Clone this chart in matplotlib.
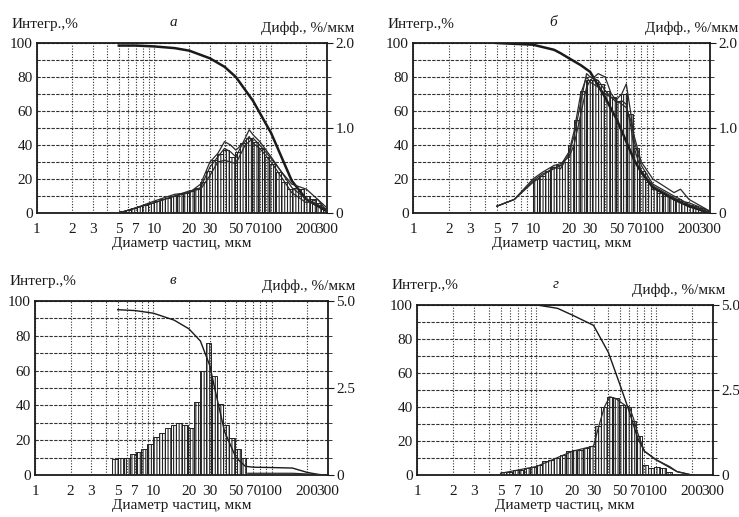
import matplotlib
matplotlib.use("Agg")
import matplotlib.pyplot as plt
from matplotlib.ticker import FixedLocator, FixedFormatter, LogLocator, MultipleLocator, NullFormatter

plt.rcParams['font.family'] = ['Liberation Serif', 'DejaVu Serif']
plt.rcParams['hatch.linewidth'] = 0.8
plt.rcParams['hatch.color'] = '#2a2a2a'

# ---------------- data ----------------
XTICKS = [1, 2, 3, 5, 7, 10, 20, 30, 50, 70, 100, 200, 300]
XLABELS = ["1", "2", "3", "5", "7", "10", "20", "30", "50", "70", "100", "200", "300"]
LEFT_TICKS = [0, 20, 40, 60, 80, 100]

# histogram bin edges, мкм
EDGES = [4.5, 5.0, 5.6, 6.3, 7.1, 7.9, 8.9, 10, 11.2, 12.5, 14, 15.7, 17.6, 19.7,
         22, 24.7, 27.7, 31, 34.7, 38.9, 43.6, 48.8, 54.7, 61.3, 68.6, 76.9, 86.1,
         96.5, 108, 121, 136, 152, 170, 191, 214, 240, 268, 300]

# --- panel а (diff, %/мкм) ---
A_HIST = [0.0, 0.02, 0.04, 0.06, 0.08, 0.10, 0.12, 0.14, 0.16, 0.18, 0.20, 0.22, 0.24,
          0.26, 0.30, 0.36, 0.50, 0.62, 0.70, 0.74, 0.66, 0.72, 0.82, 0.88, 0.84, 0.76,
          0.66, 0.58, 0.48, 0.36, 0.28, 0.30, 0.28, 0.20, 0.16, 0.12, 0.06]
A_CX = [5, 7, 10, 15, 20, 25, 30, 35, 40, 45, 50, 60, 65, 70, 80, 100, 120, 150, 200, 250, 300]
A_C1 = [0, .06, .12, .20, .24, .30, .54, .66, .76, .72, .66, .88, .98, .92, .84, .66, .50, .30, .16, .10, .04]
A_C2 = [0, .06, .12, .20, .26, .28, .44, .60, .62, .60, .58, .80, .84, .88, .80, .64, .50, .34, .28, .16, .06]
A_C3 = [0, .06, .14, .22, .24, .34, .60, .70, .84, .80, .74, .84, .90, .82, .76, .60, .44, .24, .12, .16, .02]
A_IX = [5, 7, 10, 15, 20, 30, 40, 50, 70, 100, 150, 200, 300]
A_INT = [98.5, 98.5, 98, 97, 95.5, 91, 86, 80, 66, 47, 19, 8, 1]

# --- panel б ---
B_HIST = [0, 0, 0, 0, 0, 0, 0, 0.40, 0.44, 0.50, 0.54, 0.56, 0.60, 0.80, 1.10, 1.44,
          1.56, 1.56, 1.52, 1.44, 1.36, 1.32, 1.40, 1.16, 0.76, 0.50, 0.36, 0.28, 0.24,
          0.20, 0.18, 0.16, 0.12, 0.10, 0.08, 0.06, 0.02]
B_CX = [5, 7, 10, 12, 15, 17, 20, 22, 25, 28, 30, 35, 40, 45, 50, 55, 60, 65, 70, 80, 100, 150, 170, 200, 300]
B_C1 = [.08, .16, .36, .44, .54, .52, .70, .90, 1.30, 1.64, 1.60, 1.56, 1.44, 1.36, 1.34, 1.40, 1.52, 1.20, .84, .56, .34, .20, .16, .10, 0]
B_C2 = [.08, .16, .40, .48, .56, .58, .66, .80, 1.16, 1.48, 1.56, 1.64, 1.60, 1.40, 1.32, 1.28, 1.24, 1.10, .90, .60, .40, .24, .28, .16, .02]
B_C3 = [.08, .16, .38, .46, .52, .56, .72, .96, 1.40, 1.60, 1.54, 1.48, 1.40, 1.36, 1.30, 1.32, 1.28, 1.04, .76, .50, .32, .18, .14, .12, .02]
B_IX = [5, 10, 15, 17, 20, 25, 30, 40, 45, 50, 60, 70, 80, 100, 150, 200, 300]
B_INT = [100, 99, 96, 94, 91, 87, 83, 68, 61, 55, 42, 31, 24, 15, 8, 4, 0]

# --- panel в ---
V_HIST = [0.45, 0.48, 0.50, 0.60, 0.65, 0.75, 0.90, 1.10, 1.20, 1.35, 1.45, 1.50, 1.45,
          1.35, 2.10, 3.00, 3.80, 2.85, 2.05, 1.45, 1.05, 0.75, 0.50, 0, 0, 0, 0, 0, 0,
          0, 0, 0, 0, 0, 0, 0, 0]
V_TX = [63, 100, 150, 200, 300]
V_TAIL = [0.05, 0.05, 0.05, 0.03, 0]
V_IX = [5, 7, 10, 15, 20, 25, 30, 33, 40, 50, 60, 70, 100, 150, 200, 250, 300]
V_INT = [95, 94.5, 93, 89, 84, 77, 63, 50, 25, 10, 5, 4.5, 4.3, 4, 1.5, 0.3, 0]

# --- panel г ---
G_HIST = [0, 0.10, 0.10, 0.15, 0.15, 0.20, 0.25, 0.30, 0.40, 0.45, 0.50, 0.60, 0.70,
          0.75, 0.75, 0.80, 0.85, 1.45, 2.00, 2.30, 2.25, 2.05, 2.00, 1.60, 1.15, 0.30,
          0.20, 0.25, 0.20, 0.10, 0, 0, 0, 0, 0, 0, 0]
G_CX = [5, 10, 20, 30, 33, 37, 41, 46, 55, 60, 65, 70, 80, 100, 130, 150, 200]
G_C = [0.05, 0.25, 0.70, 0.85, 1.40, 2.00, 2.30, 2.25, 2.05, 2.00, 1.65, 1.25, 0.70, 0.45, 0.25, 0.10, 0]
G_IX = [5, 10, 15, 20, 30, 40, 50, 60, 70, 80, 100, 150, 200]
G_INT = [100, 100, 98, 94, 88, 72, 53, 37, 22, 14, 9, 2, 0]

INK = "#1a1a1a"
FS = 11

fig = plt.figure(figsize=(7.39, 5.17), dpi=100)
fig.patch.set_facecolor("white")

positions = {
    "а": [0.050, 0.588, 0.3925, 0.3288],
    "б": [0.5589, 0.588, 0.402, 0.3288],
    "в": [0.0474, 0.0812, 0.3965, 0.3366],
    "г": [0.5643, 0.0812, 0.4005, 0.329],
}
right_text_offset = {"а": 20, "б": 20, "в": 20, "г": 9}


def make_panel(letter, rmax, rticks, rlabels, hist, curves_x, curves, int_x, int_y):
    ax = fig.add_axes(positions[letter])
    ax.set_xscale("log")
    ax.set_ylim(0, 100)
    ax2 = ax.twinx()
    ax.set_xlim(1, 300)

    ax.xaxis.set_major_locator(FixedLocator(XTICKS))
    ax.xaxis.set_major_formatter(FixedFormatter(XLABELS))
    ax.xaxis.set_minor_locator(LogLocator(base=10, subs=range(1, 10)))
    ax.xaxis.set_minor_formatter(NullFormatter())
    ax.set_yticks(LEFT_TICKS)
    ax.set_yticklabels([str(t) for t in LEFT_TICKS])
    ax.yaxis.set_minor_locator(MultipleLocator(10))
    ax.grid(axis="x", which="both", color="#333333", ls=(0, (1, 1.5)), lw=0.8)
    ax.grid(axis="y", which="both", color="#333333", ls=(0, (3, 1.2)), lw=0.8)
    ax.tick_params(which="both", length=0, pad=3, colors=INK, labelsize=FS)
    ax.tick_params(axis="x", pad=7)
    for s in ax.spines.values():
        s.set_color(INK)
        s.set_linewidth(1.3)
    ax.plot(int_x, int_y, color=INK, lw=1.8 if letter in "аб" else 1.0, zorder=3)

    ax2.set_ylim(0, rmax)
    ax2.set_yticks(rticks)
    ax2.set_yticklabels(rlabels)
    ax2.yaxis.set_minor_locator(MultipleLocator(rmax / 10))
    ax2.tick_params(axis="y", which="major", length=4, direction="out", colors=INK,
                    pad=2, labelsize=FS)
    ax2.tick_params(axis="y", which="minor", length=3, direction="out", colors=INK)
    for s in ax2.spines.values():
        s.set_visible(False)
    lefts = EDGES[:-1]
    widths = [EDGES[i + 1] - EDGES[i] for i in range(len(EDGES) - 1)]
    ax2.bar(lefts, hist, width=widths, align="edge", facecolor="none",
            edgecolor="#222222", lw=0.7, hatch="||||||", zorder=2)
    for cy in curves:
        ax2.plot(curves_x, cy, color="#2b2b2b", lw=0.9, zorder=4)

    # texts
    ax.annotate("Интегр.,%", xy=(0, 1), xycoords="axes fraction", xytext=(-18, 9),
                textcoords="offset points", ha="left", va="bottom", fontsize=FS, color=INK)
    ax.annotate("Дифф., %/мкм", xy=(1, 1), xycoords="axes fraction",
                xytext=(right_text_offset[letter], 6),
                textcoords="offset points", ha="right", va="bottom", fontsize=FS, color=INK)
    ax.annotate(letter, xy=(0.47, 1), xycoords="axes fraction", xytext=(0, 10),
                textcoords="offset points", ha="center", va="bottom", fontsize=FS,
                style="italic", color=INK)
    ax.set_xlabel("Диаметр частиц, мкм", fontsize=FS, labelpad=1, color=INK)
    return ax, ax2


make_panel("а", 2.0, [0, 1.0, 2.0], ["0", "1.0", "2.0"], A_HIST, A_CX,
           [A_C1, A_C2, A_C3], A_IX, A_INT)
make_panel("б", 2.0, [0, 1.0, 2.0], ["0", "1.0", "2.0"], B_HIST, B_CX,
           [B_C1, B_C2, B_C3], B_IX, B_INT)
make_panel("в", 5.0, [0, 2.5, 5.0], ["0", "2.5", "5.0"], V_HIST, V_TX,
           [V_TAIL], V_IX, V_INT)
make_panel("г", 5.0, [0, 2.5, 5.0], ["0", "2.5", "5.0"], G_HIST, G_CX,
           [G_C], G_IX, G_INT)

fig.savefig("out.png", dpi=100, facecolor="white")
